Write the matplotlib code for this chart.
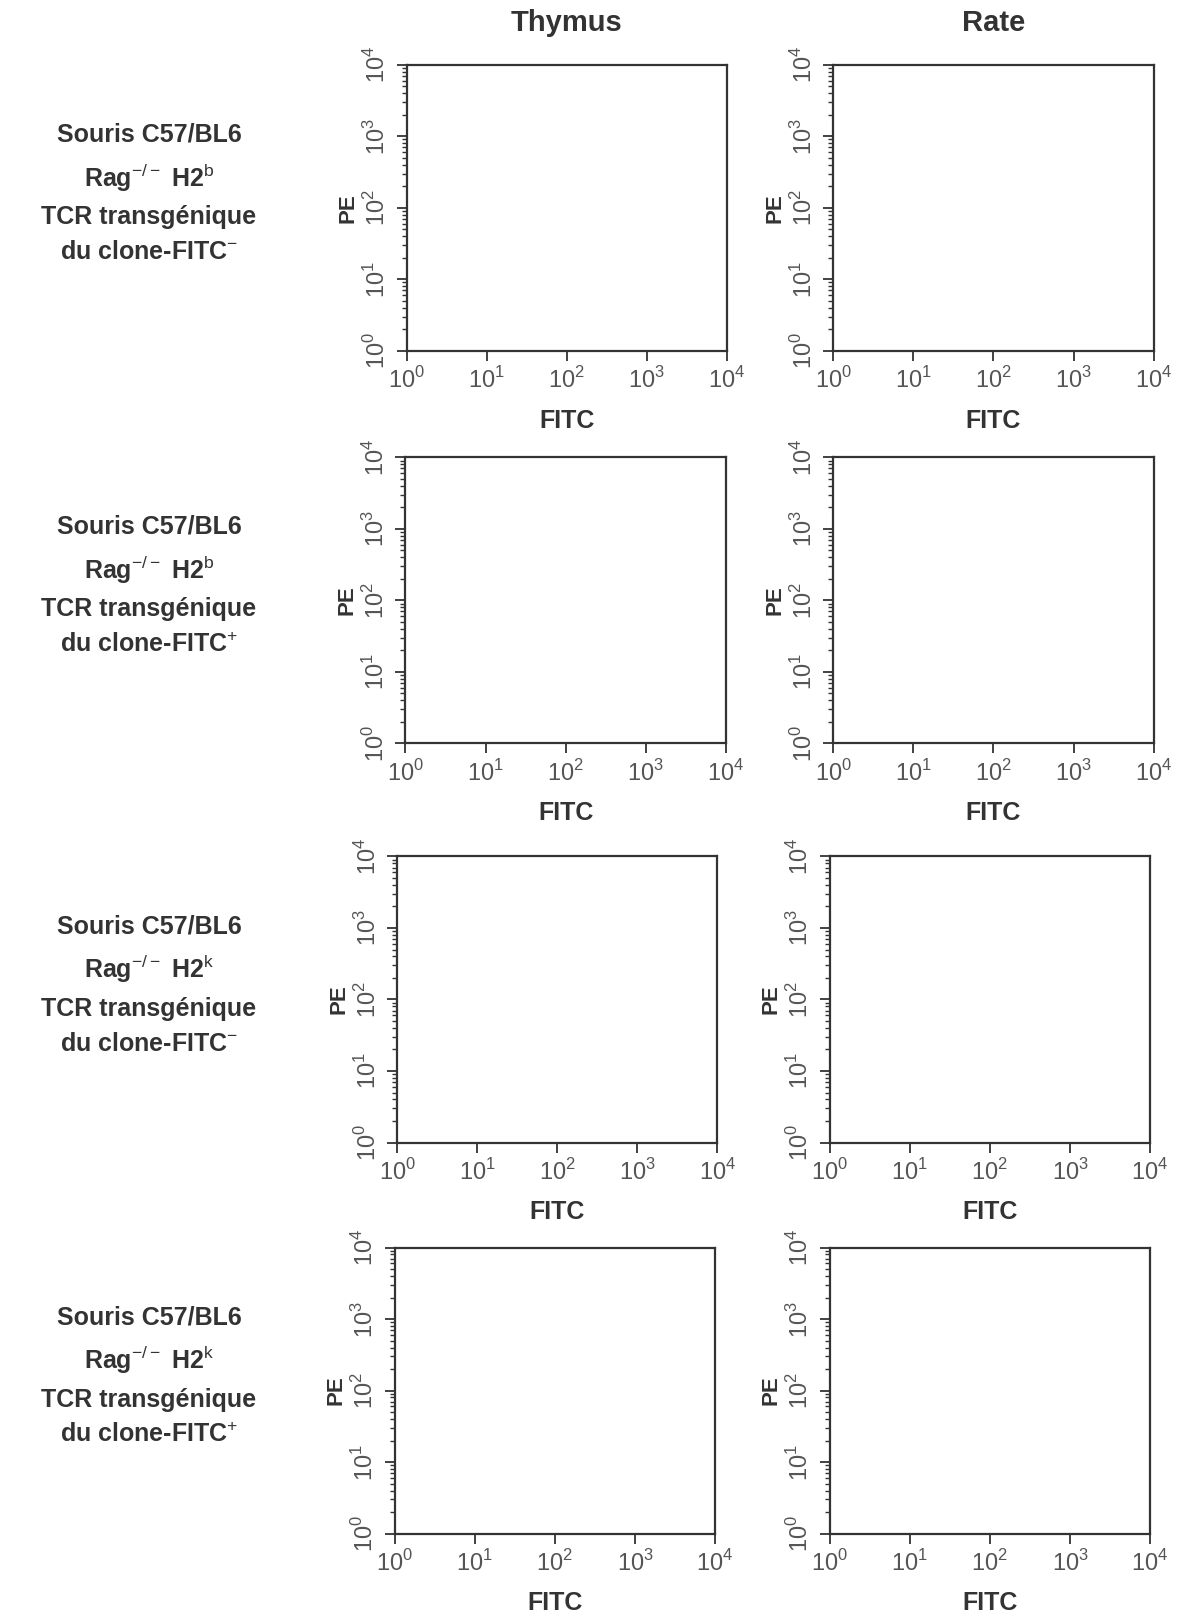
import numpy as np
import matplotlib
matplotlib.use('Agg')
import matplotlib.pyplot as plt

plt.rcParams['font.family'] = ['Liberation Sans', 'DejaVu Sans']
plt.rcParams['mathtext.fontset'] = 'custom'
plt.rcParams['mathtext.rm'] = 'Liberation Sans'
plt.rcParams['mathtext.bf'] = 'Liberation Sans:bold'

# column and row headers
columns = ['Thymus', 'Rate']
row_labels = [
    'Souris C57/BL6\nRag$^{\\mathrm{-/-}}$ H2$^{\\mathrm{b}}$\nTCR transgénique\ndu clone-FITC$^{\\mathrm{-}}$',
    'Souris C57/BL6\nRag$^{\\mathrm{-/-}}$ H2$^{\\mathrm{b}}$\nTCR transgénique\ndu clone-FITC$^{\\mathrm{+}}$',
    'Souris C57/BL6\nRag$^{\\mathrm{-/-}}$ H2$^{\\mathrm{k}}$\nTCR transgénique\ndu clone-FITC$^{\\mathrm{-}}$',
    'Souris C57/BL6\nRag$^{\\mathrm{-/-}}$ H2$^{\\mathrm{k}}$\nTCR transgénique\ndu clone-FITC$^{\\mathrm{+}}$',
]
x_label = 'FITC'
y_label = 'PE'
decades = [1, 10, 100, 1000, 10000]
decade_labels = ['$10^{0}$', '$10^{1}$', '$10^{2}$', '$10^{3}$', '$10^{4}$']

fig = plt.figure(figsize=(11.82, 16.16), dpi=100)

ink = '#333333'
tick_ink = '#555555'
lefts = [[0.344, 0.705], [0.343, 0.705], [0.336, 0.702], [0.334, 0.702]]
width = 0.271
height = 0.177
bottoms = [0.783, 0.540, 0.293, 0.051]

for r in range(4):
    for c in range(2):
        ax = fig.add_axes([lefts[r][c], bottoms[r], width, height])
        ax.set_xscale('log')
        ax.set_yscale('log')
        ax.set_xlim(1, 10000)
        ax.set_ylim(1, 10000)
        ax.set_xticks(decades)
        ax.set_xticklabels(decade_labels)
        ax.set_yticks(decades)
        ax.set_yticklabels(decade_labels, rotation=90, va='center')
        ax.tick_params(which='major', direction='out', length=7, width=1.3,
                       color=ink, labelcolor=tick_ink, labelsize=17, pad=5)
        ax.tick_params(which='minor', direction='out', length=3.5, width=1.0, color=ink)
        for s in ax.spines.values():
            s.set_color(ink)
            s.set_linewidth(1.6)
        ax.set_xlabel(x_label, fontsize=18, fontweight='bold', color=ink, labelpad=11)
        ax.set_ylabel(y_label, fontsize=16, fontweight='bold', color=ink, labelpad=4)

        if r == 0:
            fig.text(lefts[r][c] + width / 2, 0.986, columns[c], ha='center', va='center',
                     fontsize=21, fontweight='bold', color=ink)
    fig.text(0.126, bottoms[r] + height * 0.55, row_labels[r], ha='center', va='center',
             fontsize=18, fontweight='bold', color=ink, linespacing=1.6)

plt.savefig('out.png', dpi=100)
